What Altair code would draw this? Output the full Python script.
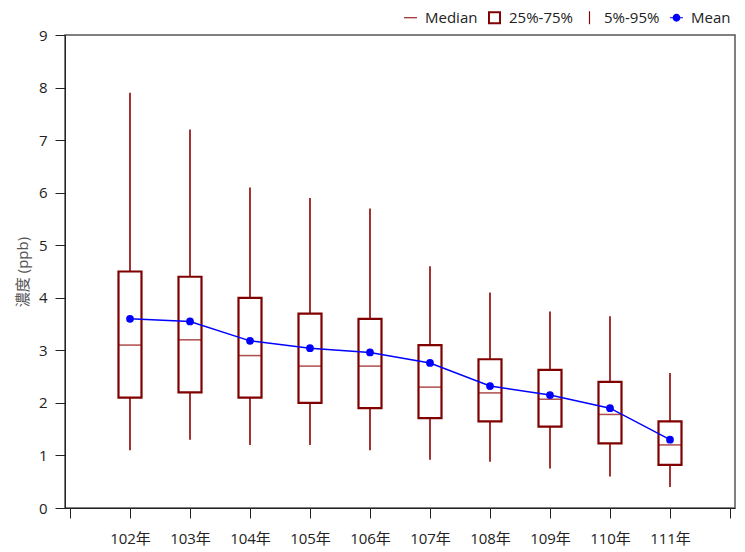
import altair as alt
import pandas as pd

years = [102, 103, 104, 105, 106, 107, 108, 109, 110, 111]
p95 = [7.9, 7.2, 6.1, 5.9, 5.7, 4.6, 4.1, 3.74, 3.65, 2.57]
q75 = [4.5, 4.4, 4.0, 3.7, 3.6, 3.1, 2.83, 2.63, 2.4, 1.65]
median = [3.1, 3.2, 2.9, 2.7, 2.7, 2.3, 2.19, 2.07, 1.78, 1.2]
q25 = [2.1, 2.2, 2.1, 2.0, 1.9, 1.71, 1.65, 1.55, 1.23, 0.82]
p5 = [1.1, 1.3, 1.2, 1.2, 1.1, 0.92, 0.88, 0.75, 0.6, 0.4]
mean = [3.6, 3.55, 3.18, 3.04, 2.96, 2.76, 2.32, 2.15, 1.9, 1.3]

legend_items = ["Median", "25%-75%", "5%-95%", "Mean"]
legend_colors = ["#8B0000", "#800000", "#8B0000", "#0000FF"]
legend_shapes = [
    "M-1,-0.08L1,-0.08L1,0.08L-1,0.08Z",
    "M-1,-1L1,-1L1,1L-1,1Z M-0.7,-0.7L-0.7,0.7L0.7,0.7L0.7,-0.7Z",
    "M-0.09,-1L0.09,-1L0.09,1L-0.09,1Z",
    "M-1,-0.08L1,-0.08L1,0.08L-1,0.08Z M0.6,0A0.6,0.6 0 1,1 -0.6,0A0.6,0.6 0 1,1 0.6,0Z",
]

df = pd.DataFrame({"year": years, "p95": p95, "q75": q75, "median": median,
                   "q25": q25, "p5": p5, "mean": mean})
leg_df = pd.DataFrame({"item": legend_items, "year": [102] * 4, "v": [0] * 4})

FONT = "Open Sans, Noto Sans CJK TC"

x_enc = alt.X("year:Q",
              scale=alt.Scale(domain=[101, 112], nice=False, zero=False),
              axis=alt.Axis(values=list(range(101, 113)), title=None,
                            labelExpr="datum.value >= 102 && datum.value <= 111 ? datum.value + '年' : ''",
                            tickSize=10, labelPadding=13, grid=False,
                            domainColor="#222", tickColor="#222"))
y_scale = alt.Scale(domain=[0, 9], nice=False)
y_axis = alt.Axis(values=list(range(0, 10)), title="濃度 (ppb)", tickSize=10,
                  labelPadding=8, grid=False, titlePadding=8,
                  titleColor="#555", titleFontWeight="normal",
                  domainColor="#222", tickColor="#222")

base = alt.Chart(df)

whisk = base.mark_rule(color="#8B0000", strokeWidth=1.6).encode(
    x=x_enc, y=alt.Y("p5:Q", scale=y_scale, axis=y_axis), y2="p95:Q")

box = base.mark_bar(size=23, fill="white", stroke="#800000", strokeWidth=2.2).encode(
    x="year:Q", y="q25:Q", y2="q75:Q")

med = base.mark_tick(orient="horizontal", size=23, thickness=1.5, color="#8B0000").encode(
    x="year:Q", y="median:Q")

mean_line = base.mark_line(color="#0000FF", strokeWidth=1.5).encode(
    x="year:Q", y="mean:Q")

mean_pts = base.mark_circle(color="#0000FF", size=60, opacity=1).encode(
    x="year:Q", y="mean:Q")

leg = alt.Chart(leg_df).transform_filter("false").mark_point(filled=True).encode(
    x="year:Q", y="v:Q",
    shape=alt.Shape("item:N", scale=alt.Scale(domain=legend_items, range=legend_shapes),
                    legend=alt.Legend(title=None)),
    color=alt.Color("item:N", scale=alt.Scale(domain=legend_items, range=legend_colors),
                    legend=alt.Legend(title=None)),
)

chart = alt.layer(whisk, box, med, mean_line, mean_pts, leg).properties(
    width=670, height=473,
    autosize=alt.AutoSizeParams(type="none"),
    padding={"left": 57, "top": 27, "right": 2, "bottom": 40},
).configure_view(stroke="#555", strokeWidth=1.5).configure_axis(
    labelFont=FONT, titleFont=FONT, labelFontSize=15, titleFontSize=15,
    labelColor="#222",
).configure_legend(
    orient="none", legendX=338, legendY=-25, direction="horizontal",
    labelFont=FONT, labelFontSize=15, labelColor="#222",
    symbolSize=169, symbolStrokeWidth=0, symbolOpacity=1,
    labelOffset=7, columnPadding=9, padding=0,
)

chart.save("out.html", embed_options={"renderer": "svg", "actions": False})
